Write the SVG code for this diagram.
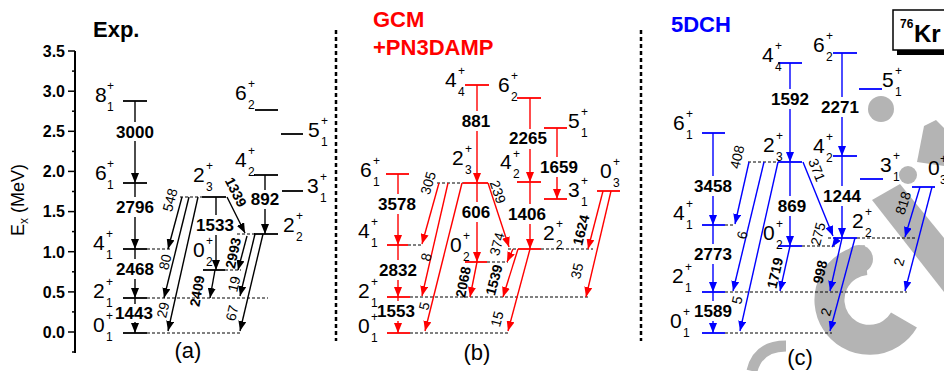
<svg xmlns="http://www.w3.org/2000/svg" width="944" height="371" viewBox="0 0 944 371">
<defs>
<marker id="mk" viewBox="0 0 10 8" refX="10" refY="4" markerWidth="10" markerHeight="8" markerUnits="userSpaceOnUse" orient="auto"><path d="M0,0L10,4L0,8z" fill="#000"/></marker>
<marker id="mr" viewBox="0 0 10 8" refX="10" refY="4" markerWidth="10" markerHeight="8" markerUnits="userSpaceOnUse" orient="auto"><path d="M0,0L10,4L0,8z" fill="#f00"/></marker>
<marker id="mb" viewBox="0 0 10 8" refX="10" refY="4" markerWidth="10" markerHeight="8" markerUnits="userSpaceOnUse" orient="auto"><path d="M0,0L10,4L0,8z" fill="#00f"/></marker>
</defs>
<style>
text{font-family:"Liberation Sans",Arial,sans-serif}
.k{stroke:#000}.r{stroke:#f00}.b{stroke:#00f}
.lv{stroke-width:1.8}
.ar{stroke-width:1.4;fill:none}
.k.ar{marker-end:url(#mk)}.r.ar{marker-end:url(#mr)}.b.ar{marker-end:url(#mb)}
.ln{stroke-width:1.4}
.ds{stroke:#000;stroke-width:1;stroke-dasharray:3 2;fill:none}
.L{font-size:21px}
.s{font-size:12px}
.e{font-size:17px;font-weight:bold;text-anchor:middle}
.t{font-size:14px;text-anchor:middle}
.tb{font-size:14px;font-weight:bold;text-anchor:middle}
.ax{font-size:16px;font-weight:bold;text-anchor:end}
.ttl{font-size:22px;font-weight:bold}
.pl{font-size:22px;text-anchor:middle}
</style>

<g id="watermark" fill="#b4b4b4">
<circle cx="881" cy="109" r="13"/>
<polygon points="924,126 936,120 944,128 944,166 917,162"/>
<circle cx="908" cy="175" r="9"/>
<polygon points="872,200 900,184 944,238 944,292"/>
<path d="M866,260 A40,40 0 1 0 904,320" fill="none" stroke="#b4b4b4" stroke-width="30"/>
<circle cx="859" cy="259" r="14"/>
<path d="M752,371 Q758,346 786,346" fill="none" stroke="#b4b4b4" stroke-width="11"/>
</g>

<g id="axis">
<line x1="75" y1="51" x2="75" y2="353" stroke="#000" stroke-width="2"/>
<g stroke="#000" stroke-width="1.5">
<line x1="68" y1="51" x2="75" y2="51"/><line x1="68" y1="91.2" x2="75" y2="91.2"/><line x1="68" y1="131.3" x2="75" y2="131.3"/><line x1="68" y1="171.4" x2="75" y2="171.4"/><line x1="68" y1="211.6" x2="75" y2="211.6"/><line x1="68" y1="251.7" x2="75" y2="251.7"/><line x1="68" y1="291.9" x2="75" y2="291.9"/><line x1="68" y1="332" x2="75" y2="332"/>
<line x1="72" y1="71.1" x2="75" y2="71.1"/><line x1="72" y1="111.2" x2="75" y2="111.2"/><line x1="72" y1="151.4" x2="75" y2="151.4"/><line x1="72" y1="191.5" x2="75" y2="191.5"/><line x1="72" y1="231.6" x2="75" y2="231.6"/><line x1="72" y1="271.8" x2="75" y2="271.8"/><line x1="72" y1="311.9" x2="75" y2="311.9"/><line x1="72" y1="352" x2="75" y2="352"/>
</g>
<text class="ax" x="65" y="57">3.5</text><text class="ax" x="65" y="97">3.0</text><text class="ax" x="65" y="137">2.5</text><text class="ax" x="65" y="177">2.0</text><text class="ax" x="65" y="217">1.5</text><text class="ax" x="65" y="258">1.0</text><text class="ax" x="65" y="298">0.5</text><text class="ax" x="65" y="338">0.0</text>
<text transform="translate(24,236) rotate(-90)" font-size="18">E<tspan font-size="12" dy="4">x</tspan><tspan dy="-4"> (MeV)</tspan></text>
</g>

<g id="separators" stroke="#000" stroke-width="2.5" stroke-dasharray="4 3">
<line x1="336" y1="30" x2="336" y2="341"/>
<line x1="641" y1="30" x2="641" y2="341"/>
</g>

<g id="titles">
<text class="ttl" x="93" y="37">Exp.</text>
<text class="ttl" x="373" y="27" fill="#f00">GCM</text>
<text class="ttl" x="373" y="55" fill="#f00">+PN3DAMP</text>
<text class="ttl" x="671" y="32" fill="#00f">5DCH</text>
<text class="pl" x="188" y="358">(a)</text>
<text class="pl" x="477" y="360">(b)</text>
<text class="pl" x="800" y="365">(c)</text>
</g>

<g id="kr-box">
<rect x="897" y="50" width="60" height="5" fill="#000"/>
<rect x="893" y="10" width="60" height="40" fill="#fff" stroke="#000" stroke-width="1.5"/>
<text x="900" y="28" font-size="12" font-weight="bold">76</text>
<text x="914" y="42" font-size="24" font-weight="bold">Kr</text>
</g>

<g id="exp-8-1"><line class="lv k" x1="123" y1="101" x2="147" y2="101"/><text class="L" x="95" y="102">8</text><text class="s" x="107" y="90">+</text><text class="s" x="107" y="111">1</text></g>
<g id="exp-6-1"><line class="lv k" x1="123" y1="183" x2="147" y2="183"/><text class="L" x="95" y="180">6</text><text class="s" x="107" y="168">+</text><text class="s" x="107" y="189">1</text></g>
<g id="exp-4-1"><line class="lv k" x1="123" y1="249" x2="147" y2="249"/><line class="ds" x1="147" y1="249" x2="170" y2="249"/><text class="L" x="93" y="250">4</text><text class="s" x="106" y="238">+</text><text class="s" x="106" y="259">1</text></g>
<g id="exp-2-1"><line class="lv k" x1="123" y1="298" x2="147" y2="298"/><line class="ds" x1="147" y1="298" x2="268" y2="298"/><text class="L" x="93" y="298">2</text><text class="s" x="106" y="286">+</text><text class="s" x="106" y="307">1</text></g>
<g id="exp-0-1"><line class="lv k" x1="123" y1="333" x2="147" y2="333"/><line class="ds" x1="147" y1="333" x2="240" y2="333"/><text class="L" x="93" y="332">0</text><text class="s" x="106" y="320">+</text><text class="s" x="106" y="341">1</text></g>
<g id="exp-2-3"><line class="lv k" x1="202" y1="197" x2="226" y2="197"/><line class="ds" x1="180" y1="197" x2="202" y2="197"/><text class="L" x="193" y="182">2</text><text class="s" x="206" y="170">+</text><text class="s" x="206" y="191">3</text></g>
<g id="exp-0-2"><line class="lv k" x1="203" y1="270" x2="225" y2="270"/><line class="ds" x1="225" y1="270" x2="241" y2="270"/><text class="L" x="193" y="257">0</text><text class="s" x="206" y="245">+</text><text class="s" x="206" y="266">2</text></g>
<g id="exp-2-2"><line class="lv k" x1="254" y1="234" x2="278" y2="234"/><line class="ds" x1="237" y1="234" x2="254" y2="234"/><text class="L" x="283" y="232">2</text><text class="s" x="296" y="220">+</text><text class="s" x="296" y="241">2</text></g>
<g id="exp-4-2"><line class="lv k" x1="254" y1="175" x2="278" y2="175"/><text class="L" x="235" y="167">4</text><text class="s" x="248" y="155">+</text><text class="s" x="248" y="176">2</text></g>
<g id="exp-6-2"><line class="lv k" x1="255" y1="110" x2="278" y2="110"/><text class="L" x="235" y="100">6</text><text class="s" x="248" y="88">+</text><text class="s" x="248" y="109">2</text></g>
<g id="exp-5-1"><line class="lv k" x1="281" y1="134" x2="303" y2="134"/><text class="L" x="308" y="137">5</text><text class="s" x="321" y="125">+</text><text class="s" x="321" y="146">1</text></g>
<g id="exp-3-1"><line class="lv k" x1="282" y1="191" x2="303" y2="191"/><text class="L" x="307" y="193">3</text><text class="s" x="320" y="181">+</text><text class="s" x="320" y="202">1</text></g>

<g id="gcm-6-1"><line class="lv r" x1="386" y1="174" x2="409" y2="174"/><text class="L" x="360" y="177">6</text><text class="s" x="373" y="165">+</text><text class="s" x="373" y="186">1</text></g>
<g id="gcm-4-1"><line class="lv r" x1="387" y1="245" x2="408" y2="245"/><line class="ds" x1="408" y1="245" x2="422" y2="245"/><text class="L" x="358" y="238">4</text><text class="s" x="371" y="226">+</text><text class="s" x="371" y="247">1</text></g>
<g id="gcm-2-1"><line class="lv r" x1="387" y1="297" x2="410" y2="297"/><line class="ds" x1="410" y1="297" x2="588" y2="297"/><text class="L" x="358" y="298">2</text><text class="s" x="371" y="286">+</text><text class="s" x="371" y="307">1</text></g>
<g id="gcm-0-1"><line class="lv r" x1="387" y1="333" x2="410" y2="333"/><line class="ds" x1="410" y1="333" x2="508" y2="333"/><text class="L" x="358" y="333">0</text><text class="s" x="371" y="321">+</text><text class="s" x="371" y="342">1</text></g>
<g id="gcm-4-4"><line class="lv r" x1="465" y1="85" x2="489" y2="85"/><text class="L" x="445" y="87">4</text><text class="s" x="458" y="75">+</text><text class="s" x="458" y="96">4</text></g>
<g id="gcm-2-3"><line class="lv r" x1="463" y1="183" x2="488" y2="183"/><line class="ds" x1="437" y1="183" x2="463" y2="183"/><text class="L" x="452" y="165">2</text><text class="s" x="465" y="153">+</text><text class="s" x="465" y="174">3</text></g>
<g id="gcm-0-2"><line class="lv r" x1="465" y1="262" x2="487" y2="262"/><line class="ds" x1="487" y1="262" x2="508" y2="262"/><text class="L" x="450" y="252">0</text><text class="s" x="463" y="240">+</text><text class="s" x="463" y="261">2</text></g>
<g id="gcm-6-2"><line class="lv r" x1="517" y1="98" x2="541" y2="98"/><text class="L" x="498" y="92">6</text><text class="s" x="511" y="80">+</text><text class="s" x="511" y="101">2</text></g>
<g id="gcm-4-2"><line class="lv r" x1="517" y1="182" x2="541" y2="182"/><text class="L" x="500" y="169">4</text><text class="s" x="513" y="158">+</text><text class="s" x="513" y="178">2</text></g>
<g id="gcm-2-2"><line class="lv r" x1="518" y1="249" x2="541" y2="249"/><line class="ds" x1="508" y1="249" x2="518" y2="249"/><line class="ds" x1="541" y1="249" x2="593" y2="249"/><text class="L" x="543" y="240">2</text><text class="s" x="556" y="228">+</text><text class="s" x="556" y="249">2</text></g>
<g id="gcm-5-1"><line class="lv r" x1="544" y1="128" x2="567" y2="128"/><text class="L" x="568" y="128">5</text><text class="s" x="581" y="116">+</text><text class="s" x="581" y="137">1</text></g>
<g id="gcm-3-1"><line class="lv r" x1="544" y1="199" x2="567" y2="199"/><text class="L" x="568" y="197">3</text><text class="s" x="581" y="185">+</text><text class="s" x="581" y="206">1</text></g>
<g id="gcm-0-3"><line class="lv r" x1="597" y1="191" x2="620" y2="191"/><text class="L" x="600" y="178">0</text><text class="s" x="613" y="166">+</text><text class="s" x="613" y="187">3</text></g>

<g id="dch-6-1"><line class="lv b" x1="702" y1="133" x2="725" y2="133"/><text class="L" x="673" y="130">6</text><text class="s" x="686" y="118">+</text><text class="s" x="686" y="139">1</text></g>
<g id="dch-4-1"><line class="lv b" x1="702" y1="225" x2="725" y2="225"/><line class="ds" x1="725" y1="225" x2="735" y2="225"/><text class="L" x="673" y="220">4</text><text class="s" x="686" y="208">+</text><text class="s" x="686" y="229">1</text></g>
<g id="dch-2-1"><line class="lv b" x1="702" y1="292" x2="725" y2="292"/><line class="ds" x1="725" y1="292" x2="907" y2="292"/><text class="L" x="672" y="283">2</text><text class="s" x="685" y="271">+</text><text class="s" x="685" y="292">1</text></g>
<g id="dch-0-1"><line class="lv b" x1="702" y1="333" x2="725" y2="333"/><line class="ds" x1="725" y1="333" x2="832" y2="333"/><text class="L" x="670" y="328">0</text><text class="s" x="683" y="316">+</text><text class="s" x="683" y="337">1</text></g>
<g id="dch-4-4"><line class="lv b" x1="778" y1="63" x2="802" y2="63"/><text class="L" x="762" y="62">4</text><text class="s" x="775" y="50">+</text><text class="s" x="775" y="71">4</text></g>
<g id="dch-2-3"><line class="lv b" x1="778" y1="162" x2="802" y2="162"/><line class="ds" x1="748" y1="162" x2="778" y2="162"/><text class="L" x="763" y="152">2</text><text class="s" x="776" y="140">+</text><text class="s" x="776" y="161">3</text></g>
<g id="dch-0-2"><line class="lv b" x1="778" y1="246" x2="802" y2="246"/><line class="ds" x1="802" y1="246" x2="835" y2="246"/><text class="L" x="763" y="240">0</text><text class="s" x="776" y="228">+</text><text class="s" x="776" y="249">2</text></g>
<g id="dch-6-2"><line class="lv b" x1="833" y1="53" x2="857" y2="53"/><text class="L" x="813" y="52">6</text><text class="s" x="826" y="40">+</text><text class="s" x="826" y="61">2</text></g>
<g id="dch-4-2"><line class="lv b" x1="833" y1="156" x2="857" y2="156"/><text class="L" x="813" y="153">4</text><text class="s" x="826" y="141">+</text><text class="s" x="826" y="162">2</text></g>
<g id="dch-2-2"><line class="lv b" x1="833" y1="238" x2="857" y2="238"/><line class="ds" x1="828" y1="238" x2="833" y2="238"/><line class="ds" x1="857" y1="238" x2="915" y2="238"/><text class="L" x="852" y="228">2</text><text class="s" x="865" y="216">+</text><text class="s" x="865" y="237">2</text></g>
<g id="dch-5-1"><line class="lv b" x1="859" y1="89" x2="882" y2="89"/><text class="L" x="882" y="87">5</text><text class="s" x="895" y="75">+</text><text class="s" x="895" y="96">1</text></g>
<g id="dch-3-1"><line class="lv b" x1="860" y1="179" x2="883" y2="179"/><text class="L" x="880" y="172">3</text><text class="s" x="893" y="160">+</text><text class="s" x="893" y="181">1</text></g>
<g id="dch-0-3"><line class="lv b" x1="912" y1="187" x2="935" y2="187"/><text class="L" x="928" y="175">0</text><text class="s" x="940" y="163">+</text><text class="s" x="940" y="184">3</text></g>

<g id="connectors">
<line class="k ln" x1="135" y1="101" x2="135" y2="122"/><line class="k ar" x1="135" y1="141" x2="135" y2="183"/>
<line class="k ln" x1="135" y1="183" x2="135" y2="197"/><line class="k ar" x1="135" y1="217" x2="135" y2="249"/>
<line class="k ln" x1="135" y1="249" x2="135" y2="259"/><line class="k ar" x1="135" y1="279" x2="135" y2="298"/>
<line class="k ln" x1="135" y1="298" x2="135" y2="304"/><line class="k ar" x1="135" y1="322" x2="135" y2="333"/>
<line class="k ln" x1="216" y1="197" x2="216" y2="215"/><line class="k ar" x1="216" y1="235" x2="216" y2="270"/>
<line class="k ln" x1="265" y1="175" x2="265" y2="190"/><line class="k ar" x1="265" y1="209" x2="265" y2="234"/>
<line class="k ar" x1="182" y1="197" x2="168" y2="249"/>
<line class="k ar" x1="189" y1="197" x2="164" y2="298"/>
<line class="k ar" x1="198" y1="197" x2="168" y2="331"/>
<line class="k ar" x1="227" y1="197" x2="245" y2="233"/>
<line class="k ar" x1="247" y1="236" x2="238" y2="270"/>
<line class="k ar" x1="215" y1="270" x2="210" y2="298"/>
<line class="k ar" x1="255" y1="234" x2="240" y2="296"/>
<line class="k ar" x1="263" y1="234" x2="240" y2="331"/>
<line class="r ln" x1="398" y1="174" x2="398" y2="194"/><line class="r ar" x1="398" y1="214" x2="398" y2="245"/>
<line class="r ln" x1="398" y1="245" x2="398" y2="260"/><line class="r ar" x1="398" y1="280" x2="398" y2="297"/>
<line class="r ln" x1="398" y1="297" x2="398" y2="301"/><line class="r ar" x1="398" y1="321" x2="398" y2="333"/>
<line class="r ln" x1="477" y1="85" x2="477" y2="111"/><line class="r ar" x1="477" y1="131" x2="477" y2="183"/>
<line class="r ln" x1="477" y1="183" x2="477" y2="202"/><line class="r ar" x1="477" y1="222" x2="477" y2="262"/>
<line class="r ln" x1="530" y1="98" x2="530" y2="129"/><line class="r ar" x1="530" y1="149" x2="530" y2="182"/>
<line class="r ln" x1="530" y1="182" x2="530" y2="204"/><line class="r ar" x1="530" y1="224" x2="530" y2="249"/>
<line class="r ln" x1="557" y1="128" x2="557" y2="157"/><line class="r ar" x1="557" y1="177" x2="557" y2="199"/>
<line class="r ar" x1="439" y1="183" x2="422" y2="244"/>
<line class="r ar" x1="448" y1="183" x2="422" y2="296"/>
<line class="r ar" x1="462" y1="183" x2="425" y2="331"/>
<line class="r ar" x1="488" y1="183" x2="509" y2="247"/>
<line class="r ar" x1="513" y1="249" x2="507" y2="262"/>
<line class="r ar" x1="518" y1="249" x2="503" y2="297"/>
<line class="r ar" x1="530" y1="249" x2="508" y2="331"/>
<line class="r ar" x1="477" y1="262" x2="470" y2="297"/>
<line class="r ar" x1="603" y1="191" x2="588" y2="249"/>
<line class="r ar" x1="611" y1="191" x2="586" y2="297"/>
<line class="b ln" x1="713" y1="133" x2="713" y2="176"/><line class="b ar" x1="713" y1="196" x2="713" y2="225"/>
<line class="b ln" x1="713" y1="225" x2="713" y2="244"/><line class="b ar" x1="713" y1="264" x2="713" y2="292"/>
<line class="b ln" x1="713" y1="292" x2="713" y2="301"/><line class="b ar" x1="713" y1="321" x2="713" y2="333"/>
<line class="b ln" x1="790" y1="63" x2="790" y2="89"/><line class="b ar" x1="790" y1="109" x2="790" y2="162"/>
<line class="b ln" x1="790" y1="162" x2="790" y2="196"/><line class="b ar" x1="790" y1="216" x2="790" y2="246"/>
<line class="b ln" x1="842" y1="53" x2="842" y2="97"/><line class="b ar" x1="842" y1="117" x2="842" y2="156"/>
<line class="b ln" x1="842" y1="156" x2="842" y2="186"/><line class="b ar" x1="842" y1="206" x2="842" y2="238"/>
<line class="b ar" x1="749" y1="162" x2="735" y2="224"/>
<line class="b ar" x1="764" y1="162" x2="733" y2="291"/>
<line class="b ar" x1="778" y1="162" x2="740" y2="331"/>
<line class="b ar" x1="803" y1="162" x2="833" y2="236"/>
<line class="b ar" x1="838" y1="238" x2="832" y2="247"/>
<line class="b ar" x1="790" y1="246" x2="780" y2="291"/>
<line class="b ar" x1="842" y1="238" x2="830" y2="291"/>
<line class="b ar" x1="855" y1="238" x2="830" y2="331"/>
<line class="b ar" x1="920" y1="187" x2="905" y2="237"/>
<line class="b ar" x1="932" y1="187" x2="905" y2="291"/>
</g>

<g id="energy-labels">
<text class="e" x="135" y="138">3000</text><text class="e" x="135" y="213">2796</text><text class="e" x="135" y="275">2468</text><text class="e" x="134" y="319">1443</text><text class="e" x="215" y="231">1533</text><text class="e" x="265" y="205">892</text>
<text class="e" x="397" y="210">3578</text><text class="e" x="398" y="276">2832</text><text class="e" x="396" y="317">1553</text><text class="e" x="476" y="127">881</text><text class="e" x="476" y="218">606</text><text class="e" x="528" y="144">2265</text><text class="e" x="559" y="173">1659</text><text class="e" x="527" y="220">1406</text>
<text class="e" x="790" y="105">1592</text><text class="e" x="840" y="113">2271</text><text class="e" x="713" y="192">3458</text><text class="e" x="713" y="260">2773</text><text class="e" x="713" y="317">1589</text><text class="e" x="792" y="212">869</text><text class="e" x="842" y="202">1244</text>
</g>

<g id="transition-labels">
<text class="t" transform="translate(170,200) rotate(-75)" y="5">548</text>
<text class="t" transform="translate(165,262) rotate(-76)" y="5">80</text>
<text class="t" transform="translate(163,310) rotate(-77)" y="5">29</text>
<text class="tb" transform="translate(236,192) rotate(63)" y="5">1339</text>
<text class="tb" transform="translate(233,253) rotate(-78)" y="5">2993</text>
<text class="tb" transform="translate(197,291) rotate(-80)" y="5">2409</text>
<text class="t" transform="translate(234,284) rotate(-76)" y="5">19</text>
<text class="t" transform="translate(232,313) rotate(-76)" y="5">67</text>
<text class="t" transform="translate(428,183) rotate(-74)" y="5">305</text>
<text class="t" transform="translate(426,257) rotate(-77)" y="5">8</text>
<text class="t" transform="translate(424,306) rotate(-76)" y="5">5</text>
<text class="t" transform="translate(498,192) rotate(71)" y="5">239</text>
<text class="t" transform="translate(497,244) rotate(-75)" y="5">374</text>
<text class="tb" transform="translate(494,280) rotate(-75)" y="5">1539</text>
<text class="t" transform="translate(497,319) rotate(-75)" y="5">15</text>
<text class="tb" transform="translate(463,282) rotate(-79)" y="5">2068</text>
<text class="tb" transform="translate(581,230) rotate(-76)" y="5">1624</text>
<text class="t" transform="translate(577,271) rotate(-77)" y="5">35</text>
<text class="t" transform="translate(737,157) rotate(-77)" y="5">408</text>
<text class="t" transform="translate(742,235) rotate(-76)" y="5">6</text>
<text class="t" transform="translate(737,300) rotate(-77)" y="5">5</text>
<text class="t" transform="translate(817,170) rotate(68)" y="5">371</text>
<text class="t" transform="translate(818,234) rotate(-75)" y="5">275</text>
<text class="tb" transform="translate(775,273) rotate(-77)" y="5">1719</text>
<text class="tb" transform="translate(820,272) rotate(-77)" y="5">998</text>
<text class="t" transform="translate(826,312) rotate(-75)" y="5">2</text>
<text class="t" transform="translate(903,203) rotate(-73)" y="5">818</text>
<text class="t" transform="translate(899,262) rotate(-75)" y="5">2</text>
</g>
</svg>
